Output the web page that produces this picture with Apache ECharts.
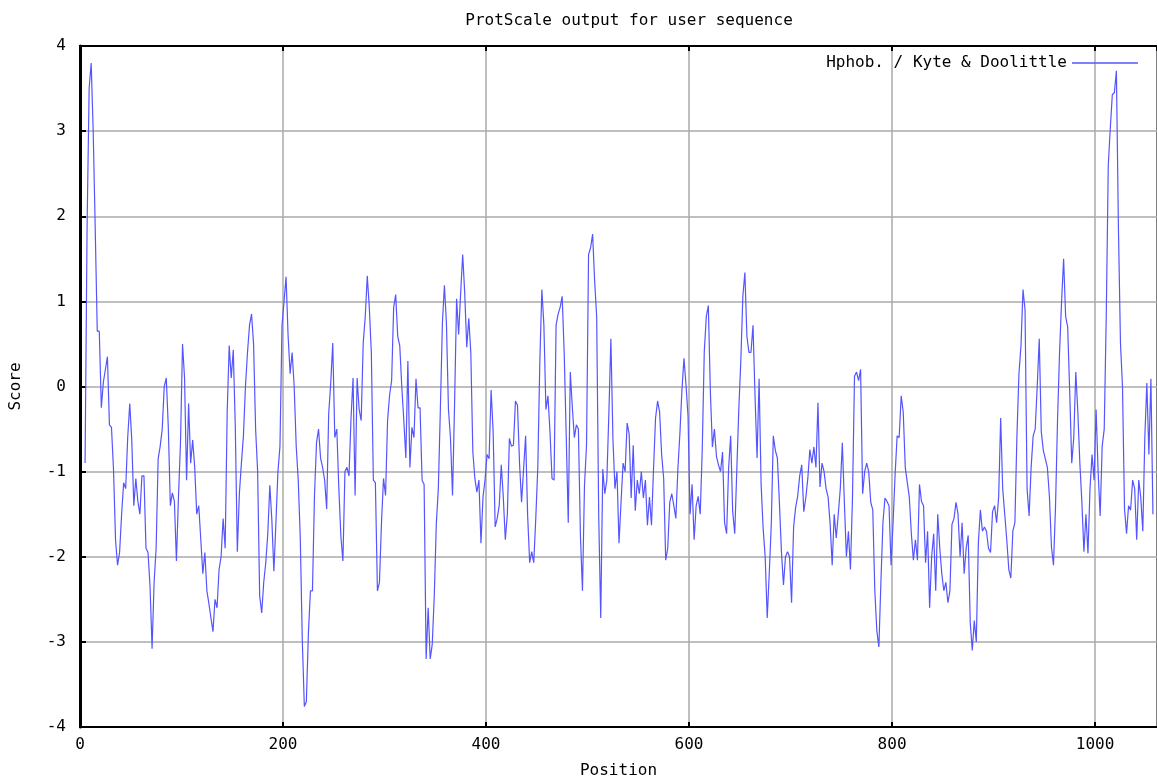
<!DOCTYPE html>
<html>
<head>
<meta charset="utf-8">
<script src="https://cdn.jsdelivr.net/npm/echarts@6/dist/echarts.min.js"></script>
<style>
html, body { margin: 0; padding: 0; background: #fff; }
#chart { width: 1157px; height: 784px; }
</style>
</head>
<body>
<div id="chart"></div>
<script>
// Kyte & Doolittle scores, every 2 residues starting at position 5
var firstPos = 5;
var stepPos = 2;

var scores5_95 = [-0.9, 1.9, 3.5, 3.8, 3.0, 1.85, 0.65, 0.65, -0.25, 0.05, 0.2, 0.35, -0.45, -0.48, -0.97, -1.8,
  -2.1, -1.95, -1.5, -1.13, -1.2, -0.6, -0.2, -0.63, -1.4, -1.08, -1.35, -1.5, -1.05, -1.05, -1.9, -1.95,
  -2.35, -3.08, -2.3, -1.9, -0.85, -0.7, -0.5, 0.0, 0.1, -0.48, -1.4, -1.25, -1.35, -2.05];
var scores97_191 = [-1.3, -0.66, 0.5, 0.1, -1.1, -0.2, -0.9, -0.63, -0.95, -1.5, -1.4, -1.8, -2.2, -1.95, -2.4, -2.55,
  -2.72, -2.88, -2.5, -2.6, -2.15, -2.0, -1.55, -1.9, -0.3, 0.48, 0.1, 0.43, -0.48, -1.94, -1.26, -0.9,
  -0.58, 0.0, 0.4, 0.72, 0.85, 0.5, -0.5, -1.0, -2.46, -2.66, -2.3, -2.07, -1.73, -1.16, -1.57, -2.17];
var scores193_289 = [-1.6, -1.0, -0.7, 0.72, 1.0, 1.29, 0.6, 0.15, 0.4, 0.0, -0.7, -1.1, -1.78, -2.98, -3.76, -3.7,
  -2.9, -2.4, -2.4, -1.28, -0.66, -0.5, -0.84, -0.95, -1.1, -1.44, -0.32, 0.04, 0.51, -0.6, -0.5, -1.2,
  -1.76, -2.05, -1.0, -0.95, -1.05, -0.37, 0.1, -1.28, 0.1, -0.27, -0.4, 0.51, 0.82, 1.3, 0.93, 0.4, -1.1];
var scores291_385 = [-1.13, -2.4, -2.3, -1.6, -1.08, -1.28, -0.4, -0.1, 0.07, 0.93, 1.08, 0.59, 0.48, 0.0, -0.4, -0.84,
  0.3, -0.95, -0.48, -0.6, 0.09, -0.25, -0.25, -1.1, -1.15, -3.2, -2.6, -3.2, -3.03, -2.46, -1.62, -1.2,
  -0.27, 0.74, 1.19, 0.74, -0.27, -0.61, -1.28, -0.21, 1.03, 0.61, 1.1, 1.55, 1.1, 0.46, 0.8, 0.4];
var scores387_481 = [-0.77, -1.08, -1.24, -1.1, -1.84, -1.3, -1.1, -0.8, -0.85, -0.04, -0.53, -1.65, -1.55, -1.4, -0.92, -1.3,
  -1.8, -1.5, -0.61, -0.7, -0.69, -0.17, -0.22, -0.9, -1.36, -0.97, -0.58, -1.52, -2.07, -1.94, -2.07, -1.55,
  -0.95, 0.3, 1.14, 0.72, -0.27, -0.11, -0.53, -1.08, -1.1, 0.72, 0.85, 0.93, 1.06, 0.4, -0.58, -1.6];
var scores483_577 = [0.17, -0.24, -0.6, -0.45, -0.5, -1.76, -2.4, -1.16, -0.69, 1.55, 1.63, 1.79, 1.24, 0.82, -1.52, -2.72,
  -0.97, -1.26, -1.1, -0.32, 0.56, -0.61, -1.2, -1.0, -1.84, -1.36, -0.9, -1.0, -0.43, -0.56, -1.31, -0.69,
  -1.46, -1.1, -1.26, -1.0, -1.31, -1.1, -1.63, -1.3, -1.63, -0.97, -0.37, -0.17, -0.3, -0.8, -1.08, -2.04];
var scores579_673 = [-1.9, -1.36, -1.26, -1.4, -1.55, -0.97, -0.55, -0.04, 0.33, 0.02, -0.35, -1.5, -1.15, -1.8, -1.4, -1.29,
  -1.5, -0.74, 0.41, 0.82, 0.95, -0.06, -0.71, -0.5, -0.82, -0.92, -1.0, -0.77, -1.6, -1.73, -0.95, -0.58,
  -1.47, -1.73, -1.0, -0.27, 0.3, 1.06, 1.34, 0.59, 0.4, 0.4, 0.72, -0.11, -0.84, 0.09, -1.15, -1.67];
var scores675_771 = [-2.0, -2.72, -2.2, -1.62, -0.58, -0.75, -0.84, -1.36, -1.94, -2.33, -2.0, -1.94, -2.0, -2.54, -1.65, -1.42,
  -1.29, -1.05, -0.92, -1.47, -1.31, -1.08, -0.74, -0.9, -0.71, -0.95, -0.19, -1.18, -0.9, -1.0, -1.2, -1.3,
  -1.62, -2.1, -1.5, -1.78, -1.5, -1.2, -0.66, -1.36, -2.0, -1.7, -2.15, -1.31, 0.12, 0.17, 0.07, 0.2, -1.26];
var scores773_865 = [-1.0, -0.9, -1.0, -1.36, -1.45, -2.4, -2.87, -3.06, -2.3, -1.6, -1.31, -1.35, -1.4, -2.1, -1.6, -1.03,
  -0.58, -0.6, -0.11, -0.3, -0.95, -1.13, -1.3, -1.73, -2.04, -1.8, -2.04, -1.15, -1.35, -1.4, -2.07, -1.7,
  -2.6, -2.0, -1.73, -2.4, -1.5, -1.9, -2.2, -2.4, -2.3, -2.54, -2.4, -1.62, -1.55, -1.36, -1.5];
var scores867_963 = [-2.0, -1.6, -2.2, -1.9, -1.75, -2.77, -3.1, -2.75, -3.0, -1.84, -1.45, -1.7, -1.65, -1.7, -1.9, -1.95,
  -1.47, -1.4, -1.6, -1.3, -0.37, -1.2, -1.5, -1.8, -2.15, -2.25, -1.7, -1.6, -0.58, 0.15, 0.48, 1.14,
  0.9, -1.2, -1.52, -0.95, -0.58, -0.5, 0.0, 0.56, -0.53, -0.75, -0.85, -0.95, -1.29, -1.88, -2.1, -1.42, -0.4];
var scores965_1057 = [0.4, 1.0, 1.5, 0.82, 0.7, -0.06, -0.9, -0.6, 0.17, -0.3, -0.9, -1.36, -1.94, -1.5, -1.96, -1.2,
  -0.8, -1.1, -0.27, -1.0, -1.52, -0.7, -0.5, 0.82, 2.6, 3.04, 3.43, 3.45, 3.71, 1.86, 0.51, 0.0,
  -1.44, -1.73, -1.4, -1.45, -1.1, -1.2, -1.8, -1.1, -1.3, -1.7, -0.6, 0.04, -0.8, 0.09, -1.5];

var yTicks = [-4, -3, -2, -1, 0, 1, 2, 3, 4];

var scores = [].concat(scores5_95, scores97_191, scores193_289, scores291_385, scores387_481,
  scores483_577, scores579_673, scores675_771, scores773_865, scores867_963, scores965_1057);

var lineData = scores.map(function (v, i) {
  return [firstPos + i * stepPos, v];
});

var mono = 'DejaVu Sans Mono';
var chart = echarts.init(document.getElementById('chart'));

chart.setOption({
  animation: false,
  backgroundColor: '#fff',
  title: {
    text: 'ProtScale output for user sequence',
    left: 624,
    top: 8,
    textAlign: 'center',
    textStyle: { fontFamily: mono, fontSize: 16, fontWeight: 'normal', color: '#000' }
  },
  legend: {
    right: 14,
    top: 50,
    align: 'right',
    icon: 'rect',
    itemWidth: 66,
    itemHeight: 1.5,
    textStyle: { fontFamily: mono, fontSize: 16, color: '#000' },
    data: ['Hphob. / Kyte & Doolittle']
  },
  grid: {
    left: 80,
    right: -2,
    top: 46,
    bottom: 56,
    show: true,
    borderColor: '#000',
    borderWidth: 2
  },
  xAxis: [{
    type: 'value',
    min: 0,
    max: 1061,
    interval: 200,
    name: 'Position',
    nameLocation: 'middle',
    nameGap: 36,
    nameTextStyle: { fontFamily: mono, fontSize: 16, color: '#000' },
    axisLine: { onZero: false, lineStyle: { color: '#000', width: 2 } },
    axisTick: { inside: true, length: 5, lineStyle: { color: '#000', width: 2 } },
    axisLabel: {
      fontFamily: mono, fontSize: 16, color: '#000', margin: 10, showMaxLabel: false,
      formatter: function (v) { return String(v); }
    },
    splitLine: { lineStyle: { color: '#aaaaaa', width: 1.5 } }
  }, {
    type: 'value',
    position: 'top',
    min: 0,
    max: 1061,
    interval: 200,
    axisLine: { onZero: false, lineStyle: { color: '#000', width: 2 } },
    axisTick: { inside: true, length: 5, lineStyle: { color: '#000', width: 2 } },
    axisLabel: { show: false },
    splitLine: { show: false }
  }],
  yAxis: {
    type: 'value',
    min: yTicks[0],
    max: yTicks[yTicks.length - 1],
    interval: 1,
    name: 'Score',
    nameLocation: 'middle',
    nameGap: 56,
    nameTextStyle: { fontFamily: mono, fontSize: 16, color: '#000' },
    axisLine: { onZero: false, lineStyle: { color: '#000', width: 3 } },
    axisTick: { inside: true, length: 6, lineStyle: { color: '#000', width: 2 } },
    axisLabel: { fontFamily: mono, fontSize: 16, color: '#000', margin: 14 },
    splitLine: { lineStyle: { color: '#aaaaaa', width: 1.5 } }
  },
  series: [{
    name: 'Hphob. / Kyte & Doolittle',
    type: 'line',
    data: lineData,
    symbol: 'none',
    showSymbol: false,
    lineStyle: { color: '#5555ff', width: 1.2 },
    itemStyle: { color: '#5555ff' }
  }]
});
</script>
</body>
</html>
